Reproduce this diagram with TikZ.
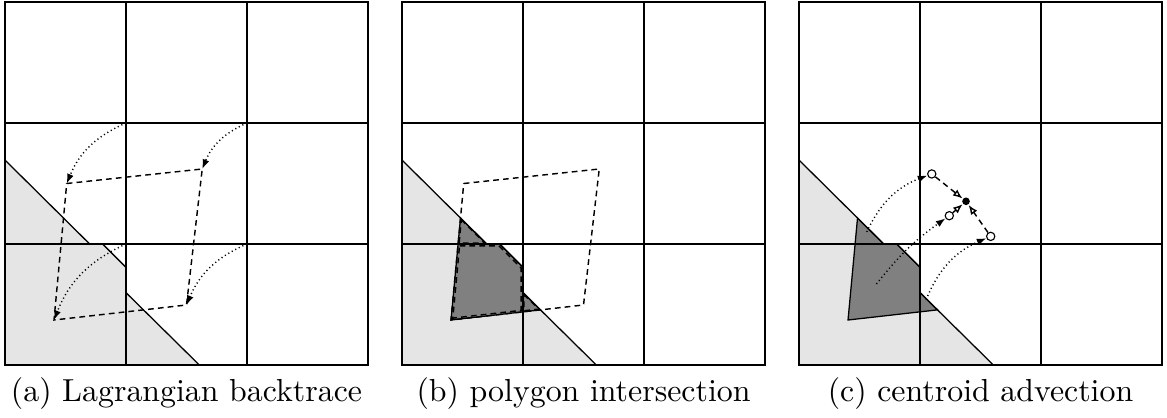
\documentclass[tikz,border=0pt]{standalone}
\usetikzlibrary{arrows.meta}
\definecolor{lightfill}{gray}{0.9}
\definecolor{darkfill}{gray}{0.5}
\newcommand\lightcells{%
  \fill[lightfill] (0,1) -- (0,1.694) -- (0.70,1) -- cycle;
  \fill[lightfill] (0,0) -- (0,1) -- (0.807,1) -- (1,0.807) -- (1,0) -- cycle;
  \fill[lightfill] (1,0) -- (1,0.598) -- (1.606,0) -- cycle;}
\newcommand\gridcells{%
  \draw[iface] (0,1.694) -- (0.70,1);
  \draw[iface] (0.807,1) -- (1,0.807);
  \draw[iface] (1,0.598) -- (1.606,0);
  \foreach \k in {0,1,2,3} {
    \draw[gridline] (\k,0) -- (\k,3);
    \draw[gridline] (0,\k) -- (3,\k);}}
\newcommand\unionpoly{(0.4834,1.2147) -- (0.405,0.372) -- (1.1443,0.4557) -- (1,0.598) -- (1,0.807) -- (0.807,1) -- (0.70,1) -- cycle}
\begin{document}
\begin{tikzpicture}[x=1.3348cm,y=1.3348cm,
  gridline/.style={line width=0.6pt,line cap=rect},
  iface/.style={line width=0.4pt},
  quad/.style={line width=0.45pt,dash pattern=on 1.8pt off 1.3pt},
  traj/.style={line width=0.45pt,dash pattern=on 0.35pt off 0.9pt,
    -{Latex[length=3pt,width=2.2pt]}},
  joinarrow/.style={quad,-{Latex[open,length=3pt,width=2.4pt]}},
  pt/.style={circle,draw,fill=white,line width=0.35pt,inner sep=0pt,minimum size=2.6pt},
  avg/.style={circle,fill=black,inner sep=0pt,minimum size=2.4pt},
  captext/.style={anchor=base,font=\normalsize}]
\useasboundingbox (-0.0413,-0.4298) rectangle (9.603,3.0165);

% ---------- panel (a)
\begin{scope}
  \lightcells
  \gridcells
  \coordinate (A) at (0.51,1.50);
  \coordinate (B) at (1.63,1.62);
  \coordinate (C) at (1.50,0.496);
  \coordinate (D) at (0.405,0.372);
  \coordinate (g12) at (1,2);
  \coordinate (g22) at (2,2);
  \coordinate (g21) at (2,1);
  \coordinate (g11) at (1,1);
  \draw[quad] (A) -- (B) -- (C) -- (D) -- cycle;
  \draw[traj] (g12) to[bend right=22] (A);
  \draw[traj] (g22) to[bend right=22] (B);
  \draw[traj] (g21) to[bend right=22] (C);
  \draw[traj] (g11) to[bend right=22] (D);
  \node[captext] (capa) at (1.5,-0.30) {(a) Lagrangian backtrace};
\end{scope}

% ---------- panel (b)
\begin{scope}[xshift=3.281*1.3348cm]
  \lightcells
  \fill[darkfill] \unionpoly;
  \gridcells
  \draw[iface] \unionpoly;
  \coordinate (A2) at (0.51,1.50);
  \coordinate (B2) at (1.63,1.62);
  \coordinate (C2) at (1.50,0.496);
  \coordinate (D2) at (0.405,0.372);
  \draw[quad] (A2) -- (B2) -- (C2) -- (D2) -- cycle;
  \draw[quad] (0.4900,1.2004) -- (0.6849,1.0072) -- (0.4721,1.0072) -- cycle;
  \draw[quad] (0.4753,0.9842) -- (0.8016,0.9842) -- (0.9850,0.8009) -- (0.9850,0.4516) -- (0.4197,0.3876) -- cycle;
  \draw[quad] (1.0072,0.583) -- (1.1299,0.462) -- (1.0072,0.4482) -- cycle;
  \node[captext] (capb) at (1.5,-0.30) {(b) polygon intersection};
\end{scope}

% ---------- panel (c)
\begin{scope}[xshift=6.562*1.3348cm]
  \lightcells
  \fill[darkfill] \unionpoly;
  \gridcells
  \draw[iface] \unionpoly;
  \coordinate (c1) at (0.56,1.10);
  \coordinate (c2) at (0.64,0.67);
  \coordinate (c3) at (1.05,0.54);
  \node[pt] (P1) at (1.097,1.579) {};
  \node[pt] (P2) at (1.242,1.234) {};
  \node[pt] (P3) at (1.584,1.063) {};
  \node[avg] (M) at (1.380,1.353) {};
  \draw[traj] (c1) to[bend left=22] (P1);
  \draw[traj] (c2) to[bend left=8] (P2);
  \draw[traj] (c3) to[bend left=22] (P3);
  \draw[joinarrow] (P1) -- (M);
  \draw[joinarrow] (P3) -- (M);
  \draw[joinarrow] (P2) -- (M);
  \node[captext] (capc) at (1.5,-0.30) {(c) centroid advection};
\end{scope}
\end{tikzpicture}
\end{document}
